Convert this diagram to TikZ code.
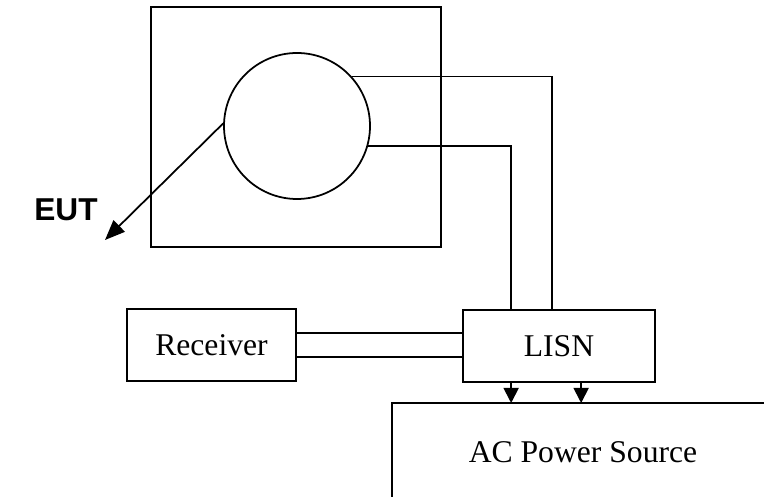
\documentclass[tikz,border=0pt]{standalone}
\usepackage{fontspec}
\setmainfont{Liberation Serif}
\newfontfamily\labelfont{Liberation Sans}
\usetikzlibrary{arrows.meta, calc}

\begin{document}
\begin{tikzpicture}[
    every node/.style={font=\fontsize{18}{20}\selectfont},
    box/.style={draw, line width=1pt, minimum height=1.44cm, inner sep=0pt},
    wire/.style={line width=1pt},
    arr/.style={-{Triangle[length=3mm, width=3mm]}, line width=1pt},
    tag/.style={font=\labelfont\bfseries\fontsize{18}{20}\selectfont}
]
    \useasboundingbox (0,0) rectangle (15.28,9.94);

    \node[draw, line width=1pt, minimum width=5.80cm, minimum height=4.80cm] (cab) at (5.92,7.40) {};
    \node[draw, circle, line width=1pt, minimum size=2.92cm, inner sep=0pt] (eut) at (5.94,7.42) {};
    \node[tag] (name) at (1.32,5.74) {EUT};
    \coordinate (tip) at (2.10,5.14);

    \node[box, minimum width=3.38cm] (rx) at (4.23,3.04) {Receiver};
    \node[box, minimum width=3.84cm] (lisn) at (11.18,3.02) {LISN};

    % open box, runs off the page
    \coordinate (corner) at (7.84,1.88);
    \node (ac) at (11.66,0.90) {AC Power Source};
    \draw[wire] (15.28,1.88) -- (corner) -- (7.84,0);

    \draw[-{Triangle[length=4mm, width=3.2mm]}, line width=1pt] (eut.178) -- (tip);
    \draw[wire] (eut.42) -| ($(lisn.north west)+(1.80,0)$);
    \draw[wire] (eut.-16) -| ($(lisn.north west)+(0.98,0)$);

    \draw[wire] ([yshift=0.24cm]rx.east) -- ([yshift=0.24cm]rx.east -| lisn.west);
    \draw[wire] ([yshift=-0.24cm]rx.east) -- ([yshift=-0.24cm]rx.east -| lisn.west);

    \coordinate (out1) at ($(lisn.south west)+(0.98,0)$);
    \coordinate (out2) at ($(lisn.south west)+(2.38,0)$);
    \draw[arr] (out1) -- (out1 |- corner);
    \draw[arr] (out2) -- (out2 |- corner);
\end{tikzpicture}
\end{document}
